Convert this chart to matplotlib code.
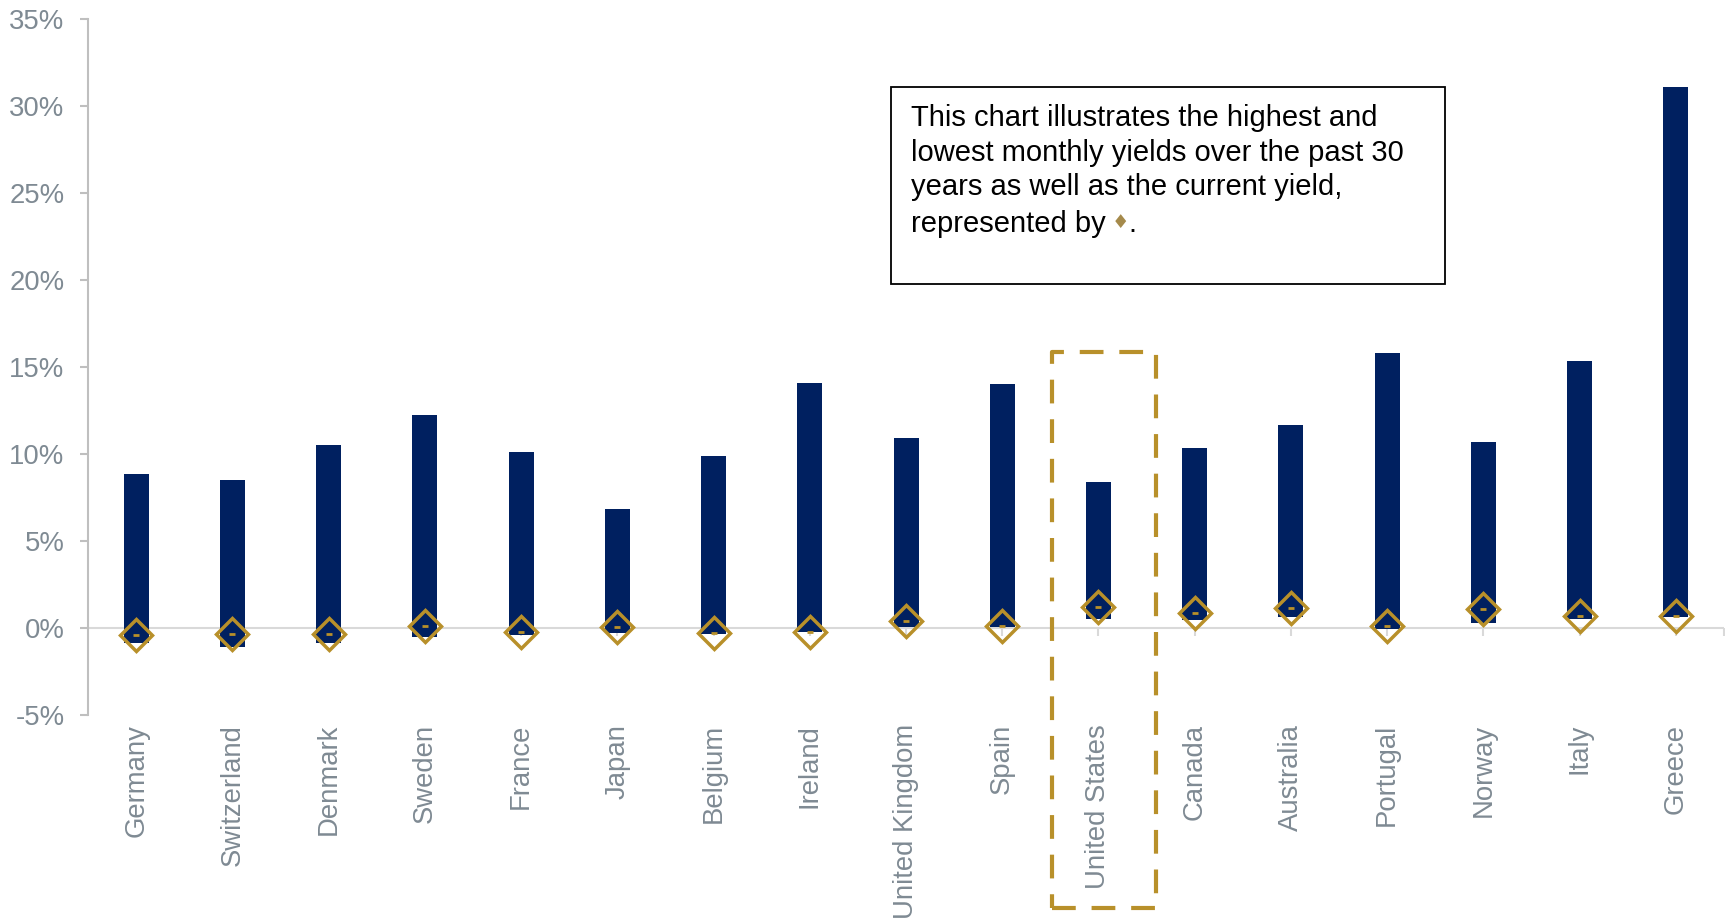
import matplotlib
matplotlib.use('Agg')
from matplotlib import pyplot as plt
from matplotlib.patches import Rectangle
from matplotlib.ticker import FuncFormatter

# 30-year range of monthly 10y government bond yields, plus the current yield
countries = ['Germany', 'Switzerland', 'Denmark', 'Sweden', 'France', 'Japan',
             'Belgium', 'Ireland', 'United Kingdom', 'Spain', 'United States',
             'Canada', 'Australia', 'Portugal', 'Norway', 'Italy', 'Greece']
highest = [8.82, 8.50, 10.53, 12.25, 10.09, 6.85, 9.90, 14.09, 10.91, 14.02,
           8.38, 10.34, 11.68, 15.80, 10.66, 15.36, 31.09]
lowest = [-0.86, -1.09, -0.84, -0.52, -0.42, -0.29, -0.33, -0.25, 0.06, 0.05,
          0.52, 0.44, 0.63, -0.04, 0.31, 0.54, 0.63]
current = [-0.42, -0.36, -0.34, 0.13, -0.23, 0.06, -0.27, -0.21, 0.38, 0.13,
           1.19, 0.88, 1.17, 0.10, 1.11, 0.69, 0.71]

navy = '#002060'
gold = '#B8902A'
grey = '#7F8A93'

plt.rcParams['font.family'] = ['Liberation Sans', 'DejaVu Sans']

fig = plt.figure(figsize=(17.33, 9.23), dpi=100)
ax = fig.add_axes([0.0508, 0.2254, 0.944, 0.7542])

x = list(range(len(countries)))
heights = [h - l for h, l in zip(highest, lowest)]
ax.bar(x, heights, bottom=lowest, width=0.26, color=navy, zorder=3)
ax.plot(x, current, linestyle='none', marker='D', markersize=16,
        markerfacecolor='none', markeredgecolor=gold, markeredgewidth=2.5, zorder=4)
ax.plot(x, current, linestyle='none', marker='_', markersize=4,
        markeredgewidth=2, color=gold, zorder=5)

# zero line with small tick marks
ax.axhline(0, color='#D9D9D9', linewidth=1.5, zorder=1)
ax.plot(x + [16.5], [0] * (len(x) + 1), linestyle='none', marker=3,
        markersize=6, color='#D9D9D9', markeredgewidth=1.5, zorder=1)

ax.set_xlim(-0.5, 16.5)
ax.set_ylim(-5, 35)
ax.set_yticks(range(-5, 36, 5))
ax.yaxis.set_major_formatter(FuncFormatter(lambda v, p: f'{v:.0f}%'))
ax.set_xticks(x)
ax.set_xticklabels(countries, rotation=90)
ax.tick_params(axis='x', length=0, pad=6.5, labelsize=19.8, labelcolor=grey)
ax.tick_params(axis='y', length=6, width=1.5, color='#BFBFBF', pad=11,
               labelsize=19.8, labelcolor=grey)

for s in ['top', 'right', 'bottom']:
    ax.spines[s].set_visible(False)
ax.spines['left'].set_color('#BFBFBF')
ax.spines['left'].set_linewidth(1.5)

# dashed highlight round the United States
ax.add_patch(Rectangle((9.516, -16.1), 1.08, 31.96, fill=False, edgecolor=gold,
                       linewidth=3, linestyle=(0, (5.7, 3.8)), clip_on=False,
                       joinstyle='round', zorder=6))

# note box
W, H = 1733, 923
fig.add_artist(Rectangle((891 / W, 1 - 284 / H), 554 / W, 197 / H,
                         transform=fig.transFigure, fill=False,
                         edgecolor='black', linewidth=1.3))
fig.text(911 / W, 1 - 104 / H,
         'This chart illustrates the highest and\n'
         'lowest monthly yields over the past 30\n'
         'years as well as the current yield,',
         ha='left', va='top', fontsize=21, linespacing=1.3, color='black')
fig.text(911 / W, 1 - 210 / H, 'represented by',
         ha='left', va='top', fontsize=21, color='black')
fig.text(1120 / W, 1 - 223 / H, '\u2666', ha='center', va='center',
         fontsize=14, color='#A58A4B', family=['DejaVu Sans'])
fig.text(1128 / W, 1 - 210 / H, '.',
         ha='left', va='top', fontsize=21, color='black')

fig.savefig('out.png', dpi=100)
